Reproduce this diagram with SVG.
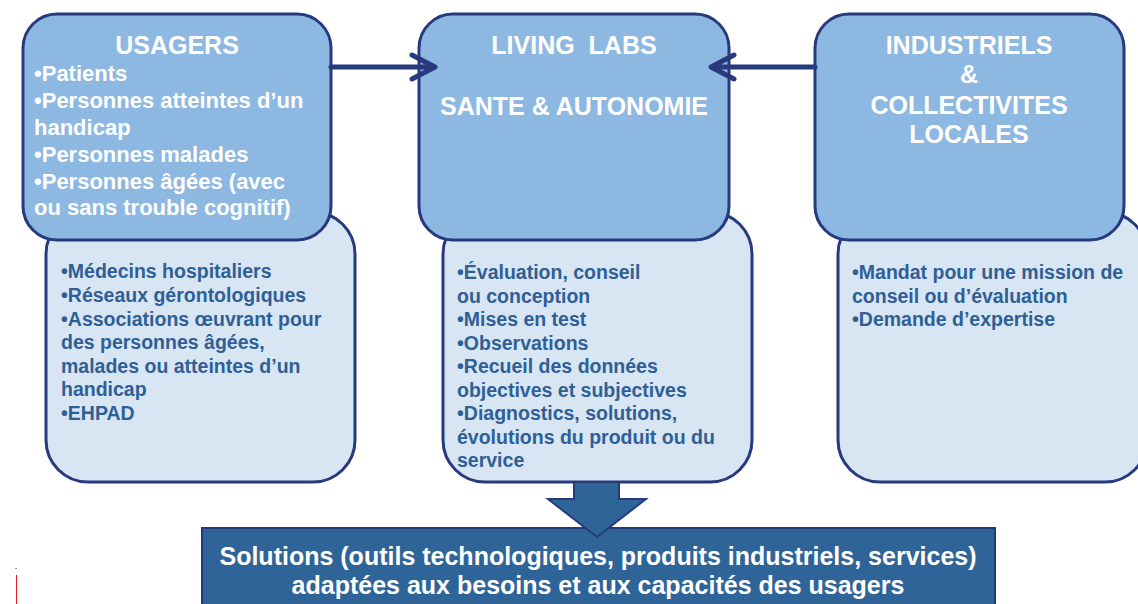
<svg xmlns="http://www.w3.org/2000/svg" width="1138" height="604" viewBox="0 0 1138 604">
<style>
.top{fill:#8db8e2;stroke:#283a7e;stroke-width:3}
.low{fill:#d8e5f3;stroke:#283a7e;stroke-width:3}
.ttl{font-family:"Liberation Sans",Arial,sans-serif;font-weight:bold;fill:#ffffff;font-size:25px}
.wt{font-family:"Liberation Sans",Arial,sans-serif;font-weight:bold;fill:#ffffff;font-size:22px}
.sol{font-family:"Liberation Sans",Arial,sans-serif;font-weight:bold;fill:#ffffff;font-size:25px}
.bt{font-family:"Liberation Sans",Arial,sans-serif;font-weight:bold;fill:#2e5f96;font-size:19.5px}
.conn{fill:none;stroke:#283a7e;stroke-width:5;stroke-linecap:round;stroke-linejoin:round}
</style>
<rect width="1138" height="604" fill="#ffffff"/>
<g id="usagers-detail">
<rect class="low" x="46" y="212" width="309" height="270" rx="42"/>
<text class="bt" x="61" y="278">•Médecins hospitaliers</text>
<text class="bt" x="61" y="302">•Réseaux gérontologiques</text>
<text class="bt" x="61" y="326">•Associations œuvrant pour</text>
<text class="bt" x="61" y="349">des personnes âgées,</text>
<text class="bt" x="61" y="373">malades ou atteintes d’un</text>
<text class="bt" x="61" y="396">handicap</text>
<text class="bt" x="61" y="420">•EHPAD</text>
</g>
<g id="livinglabs-detail">
<rect class="low" x="443" y="212" width="309" height="270" rx="42"/>
<text class="bt" x="457" y="279">•Évaluation, conseil</text>
<text class="bt" x="457" y="303">ou conception</text>
<text class="bt" x="457" y="326">•Mises en test</text>
<text class="bt" x="457" y="350">•Observations</text>
<text class="bt" x="457" y="373">•Recueil des données</text>
<text class="bt" x="457" y="397">objectives et subjectives</text>
<text class="bt" x="457" y="420">•Diagnostics, solutions,</text>
<text class="bt" x="457" y="444">évolutions du produit ou du</text>
<text class="bt" x="457" y="467">service</text>
</g>
<g id="industriels-detail">
<rect class="low" x="838" y="212" width="309" height="270" rx="42"/>
<text class="bt" x="852" y="279">•Mandat pour une mission de</text>
<text class="bt" x="852" y="303">conseil ou d’évaluation</text>
<text class="bt" x="852" y="326">•Demande d’expertise</text>
</g>
<g id="usagers">
<rect class="top" x="23" y="14" width="308" height="226" rx="34"/>
<text class="ttl" x="177" y="54" text-anchor="middle">USAGERS</text>
<text class="wt" x="34" y="81">•Patients</text>
<text class="wt" x="34" y="108">•Personnes atteintes d’un</text>
<text class="wt" x="34" y="135">handicap</text>
<text class="wt" x="34" y="162">•Personnes malades</text>
<text class="wt" x="34" y="189">•Personnes âgées (avec</text>
<text class="wt" x="34" y="215">ou sans trouble cognitif)</text>
</g>
<g id="livinglabs">
<rect class="top" x="419" y="14" width="310" height="226" rx="34"/>
<text class="ttl" x="574" y="54" text-anchor="middle" xml:space="preserve">LIVING  LABS</text>
<text class="ttl" x="574" y="115" text-anchor="middle">SANTE &amp; AUTONOMIE</text>
</g>
<g id="industriels">
<rect class="top" x="815" y="14" width="309" height="226" rx="34"/>
<text class="ttl" x="969" y="54" text-anchor="middle">INDUSTRIELS</text>
<text class="ttl" x="969" y="83" text-anchor="middle">&amp;</text>
<text class="ttl" x="969" y="114" text-anchor="middle">COLLECTIVITES</text>
<text class="ttl" x="969" y="143" text-anchor="middle">LOCALES</text>
</g>
<g id="connectors">
<path class="conn" d="M331 67 H433 M412 55 L435 67 L412 79"/>
<path class="conn" d="M815 67 H712 M734 55 L711 67 L734 79"/>
</g>
<g id="solutions">
<rect x="202" y="528" width="793" height="90" fill="#2f6499" stroke="#22397a" stroke-width="2"/>
<path d="M574 482 H619 V499 H646 L597 537 L548 499 H574 Z" fill="#2f6499" stroke="#283a7e" stroke-width="2" stroke-linejoin="miter"/>
<text class="sol" x="598" y="565" text-anchor="middle">Solutions (outils technologiques, produits industriels, services)</text>
<text class="sol" x="598" y="594" text-anchor="middle">adaptées aux besoins et aux capacités des usagers</text>
</g>
<line x1="16.5" y1="575" x2="16.5" y2="604" stroke="#e02020" stroke-width="1"/>
<rect x="15.5" y="568" width="1" height="1" fill="#333333"/>
</svg>
